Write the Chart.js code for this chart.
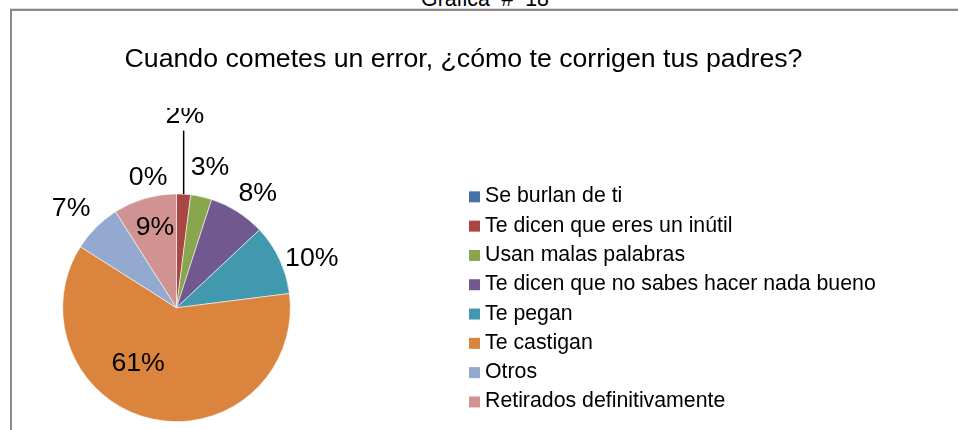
<!DOCTYPE html>
<html><head><meta charset="utf-8">
<script src="https://cdn.jsdelivr.net/npm/chart.js@4.4.1/dist/chart.umd.min.js"></script>
<style>
html,body{margin:0;padding:0;background:#fff;overflow:hidden;width:958px;height:430px;}
#cap{position:absolute;left:0;top:-11px;width:970px;text-align:center;font-family:"Liberation Sans",Arial,sans-serif;font-size:21.3px;line-height:21px;white-space:pre;color:#000;}
#frame{position:absolute;left:10px;top:9px;width:1100px;height:600px;border:2px solid #8a8a8a;box-sizing:border-box;box-shadow:0 -1px 0 #dcdcdc;}
#wrap{position:absolute;left:0;top:0;width:958px;height:430px;}
</style></head><body>
<div id="cap">Gráfica  #  18</div>
<div id="frame"></div>
<div id="wrap"><canvas id="c"></canvas></div>
<script>
// ---- data ----
const categories = [
  'Se burlan de ti',
  'Te dicen que eres un inútil',
  'Usan malas palabras',
  'Te dicen que no sabes hacer nada bueno',
  'Te pegan',
  'Te castigan',
  'Otros',
  'Retirados definitivamente'
];
const percentages = [0, 2, 3, 8, 10, 61, 7, 9];
const sliceColors = ['#4572A7', '#AA4643', '#89A54E', '#71588F', '#4198AF', '#DB843D', '#93A9CF', '#D19392'];
const chartTitle = 'Cuando cometes un error, ¿cómo te corrigen tus padres?';

// ---- styling / placement ----
const FONT = "'Liberation Sans', Arial, sans-serif";
const LABEL_SIZE = 26.7;
const LEGEND_SIZE = 21.3;
const LEGEND_PANEL_WIDTH = 574;
// label placement relative to each slice: radius factor and angle offset (deg)
const labelPlacement = [
  {f: 1.172, da: -12.3},
  {f: 1.69, da: -1.1, leader: true},
  {f: 1.267, da: 0.8},
  {f: 1.232, da: 3.0},
  {f: 1.266, da: 5.1},
  {f: 0.592, da: 22.1},
  {f: 1.272, da: -1.7},
  {f: 0.731, da: 1.2}
];
const LABEL_CLIP_TOP = 108;

const sliceLabels = {
  id: 'sliceLabels',
  afterDatasetsDraw(chart) {
    const ctx = chart.ctx;
    const meta = chart.getDatasetMeta(0);
    const data = chart.data.datasets[0].data;
    const total = data.reduce((a, b) => a + b, 0);
    ctx.save();
    ctx.beginPath();
    ctx.rect(0, LABEL_CLIP_TOP, chart.width, chart.height - LABEL_CLIP_TOP);
    ctx.clip();
    ctx.font = LABEL_SIZE + 'px ' + FONT;
    ctx.fillStyle = '#000';
    ctx.textAlign = 'center';
    ctx.textBaseline = 'middle';
    meta.data.forEach((arc, i) => {
      const p = arc.getProps(['x', 'y', 'startAngle', 'endAngle', 'outerRadius'], true);
      const mid = (p.startAngle + p.endAngle) / 2;
      const pl = labelPlacement[i];
      const a = mid + pl.da * Math.PI / 180;
      const lx = p.x + Math.cos(a) * p.outerRadius * pl.f;
      const ly = p.y + Math.sin(a) * p.outerRadius * pl.f;
      const txt = Math.round(data[i] / total * 100) + '%';
      ctx.fillText(txt, lx, ly);
      if (pl.leader) {
        const ex = p.x + Math.cos(mid) * p.outerRadius;
        const ey = p.y + Math.sin(mid) * p.outerRadius;
        ctx.beginPath();
        ctx.strokeStyle = '#000';
        ctx.lineWidth = 1.5;
        ctx.moveTo(ex, ey);
        ctx.lineTo(ex, ly + 15);
        ctx.stroke();
      }
    });
    ctx.restore();
  }
};

const sideLegend = {
  id: 'sideLegend',
  beforeInit(chart) {
    const box = {
      position: 'right', weight: 1000, fullSize: false, options: {},
      left: 0, top: 0, right: 0, bottom: 0, width: 0, height: 0,
      isHorizontal() { return false; },
      update(maxWidth, maxHeight) {
        this.width = LEGEND_PANEL_WIDTH;
        this.height = maxHeight;
        return {width: this.width, height: this.height};
      },
      draw() {
        const ctx = chart.ctx;
        const labels = chart.data.labels;
        const colors = chart.data.datasets[0].backgroundColor;
        ctx.save();
        ctx.font = LEGEND_SIZE + 'px ' + FONT;
        ctx.textAlign = 'left';
        ctx.textBaseline = 'alphabetic';
        labels.forEach((lab, i) => {
          const base = this.top + 8.8 + i * 29.3;
          ctx.fillStyle = colors[i];
          ctx.fillRect(this.left + 116, base - 11, 11, 11);
          ctx.fillStyle = '#000';
          ctx.fillText(lab, this.left + 132, base);
        });
        ctx.restore();
      }
    };
    Chart.layouts.addBox(chart, box);
  }
};

new Chart(document.getElementById('c'), {
  type: 'pie',
  data: {
    labels: categories,
    datasets: [{
      data: percentages,
      backgroundColor: sliceColors,
      borderColor: 'rgba(255,255,255,0.7)',
      borderWidth: 0.8
    }]
  },
  options: {
    responsive: true,
    maintainAspectRatio: false,
    animation: false,
    events: [],
    layout: {padding: {left: 0, right: 31, top: 0, bottom: 8}},
    plugins: {
      legend: {display: false},
      tooltip: {enabled: false},
      title: {
        display: true,
        text: chartTitle,
        color: '#000',
        font: {family: FONT, size: 26.7, weight: 'normal', lineHeight: 1.2},
        padding: {top: 44, bottom: 117.5}
      }
    }
  },
  plugins: [sliceLabels, sideLegend]
});
</script>
</body></html>
